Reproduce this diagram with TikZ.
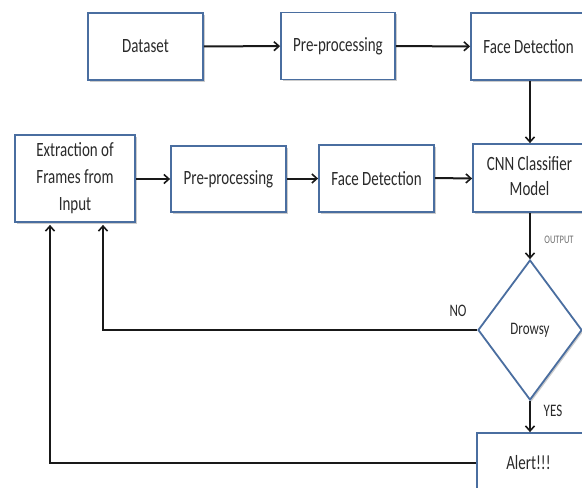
\documentclass[tikz,border=0pt]{standalone}
\usepackage{fontspec}
\usepackage{graphicx}
\setmainfont{Carlito}
\usetikzlibrary{arrows.meta,shapes.geometric,shadows,calc}
\definecolor{boxblue}{HTML}{4A6EA0}
\definecolor{txt}{HTML}{2A2A2A}
\newcommand\vt[1]{\scalebox{1}[1.35]{#1}}
\newcommand\mlines[2]{\scalebox{1}[1.35]{\renewcommand\arraystretch{#1}\begin{tabular}{@{}c@{}}#2\end{tabular}}}
\begin{document}
\begin{tikzpicture}[x=1pt,y=-1pt,
  box/.style={draw=boxblue,line width=1.8pt,fill=white,inner sep=0pt,
    drop shadow={shadow xshift=1.5pt,shadow yshift=-1.8pt,fill=black,opacity=0.2},
    text=txt,font=\fontsize{15}{18}\selectfont},
  dec/.style={diamond,draw=boxblue,line width=1.8pt,fill=white,inner sep=0pt,
    drop shadow={shadow xshift=1.5pt,shadow yshift=-1.8pt,fill=black,opacity=0.2},
    text=txt,font=\fontsize{13}{16}\selectfont},
  conn/.style={line width=2pt,draw=black!90,-{Straight Barb[length=5pt,width=9pt,line width=1.6pt]}},
  lbl/.style={text=txt,font=\fontsize{13}{16}\selectfont,inner sep=0pt},
  small/.style={text=black!55,font=\fontsize{8.5}{10}\selectfont,inner sep=0pt}]
\useasboundingbox (0,0) rectangle (582,488);
\clip (0,0) rectangle (582,488);
\fill[white] (0,0) rectangle (582,488);
% top row
\node[box,minimum width=115pt,minimum height=67pt] (dataset) at (145.5,46.5) {\vt{Dataset}};
\node[box,minimum width=114pt,minimum height=67pt] (pre1) at (338,46) {\vt{Pre-processing}};
\node[box,minimum width=115pt,minimum height=67pt] (fd1) at (528.5,46.5) {\vt{Face Detection}};
% second row
\node[box,minimum width=120pt,minimum height=87pt] (ext) at (75,178.5) {\raisebox{-3pt}{\mlines{1.11}{Extraction of\\Frames from\\Input}}};
\node[box,minimum width=115pt,minimum height=66pt] (pre2) at (228.5,179) {\vt{Pre-processing}};
\node[box,minimum width=115pt,minimum height=67pt] (fd2) at (376.5,178.5) {\vt{Face Detection}};
\node[box,minimum width=113pt,minimum height=68pt] (cnn) at (529.5,178) {\mlines{1.02}{CNN Classifier\\Model}};
% decision
\node[dec,minimum width=104pt,minimum height=140pt] (dia) at (530,330) {\vt{Drowsy}};
\node[box,minimum width=113pt,minimum height=60pt] (alert) at (533.5,463) {\hspace*{-10pt}\vt{Alert!!!}};
% return points
\coordinate (r1) at ($(ext.south)+(28,0)$);
\coordinate (r2) at ($(ext.south)+(-25,0)$);
% connectors
\draw[conn] (dataset) -- (pre1);
\draw[conn] (pre1) -- (fd1);
\draw[conn] (fd1.south -| dia.north) -- (cnn.north -| dia.north);
\draw[conn] (ext.east |- pre2.west) -- (pre2.west);
\draw[conn] (pre2.east |- fd2.west) -- (fd2.west);
\draw[conn] (fd2.east |- cnn.west) -- (cnn.west |- fd2.east);
\draw[conn] (cnn.south -| dia.north) -- (dia.north);
\draw[conn] (dia.south) -- (alert.north -| dia.south);
\draw[conn] (dia.west) -| ($(r1)+(0,2)$);
\draw[conn] (alert.west) -| ($(r2)+(0,2)$);
% labels
\node[small] (outlbl) at (559,240) {\vt{OUTPUT}};
\node[lbl] (nolbl) at (458,311) {\vt{NO}};
\node[lbl] (yeslbl) at (553,411) {\vt{YES}};
\end{tikzpicture}
\end{document}
